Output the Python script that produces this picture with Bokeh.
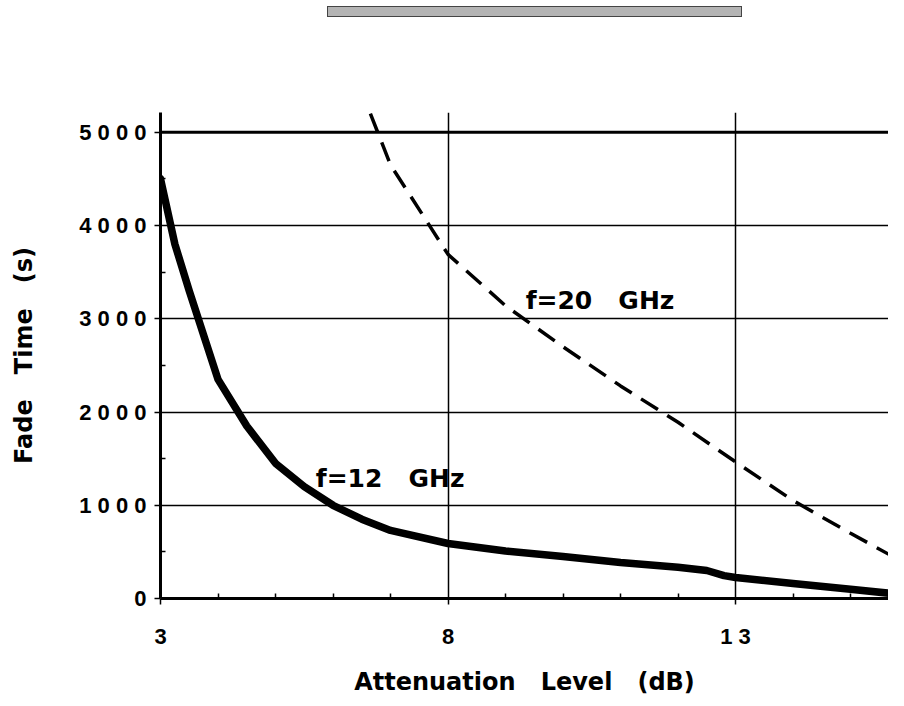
from bokeh.plotting import figure
from bokeh.models import FixedTicker, Span, Div, Range1d
from bokeh.layouts import column
from bokeh.core.properties import value
from bokeh.embed import file_html
from bokeh.resources import INLINE

NB = "\u00a0"

# f = 12 GHz (solid)
x12 = [3.0, 3.25, 3.5, 4.0, 4.5, 5.0, 5.5, 6.0, 6.5, 7.0, 8.0, 9.0, 10.0, 11.0, 12.0, 12.5, 12.8, 13.0, 14.0, 15.0, 16.0]
y12 = [4500, 3800, 3300, 2350, 1850, 1450, 1200, 1000, 850, 730, 590, 510, 450, 385, 335, 300, 245, 225, 160, 100, 35]

# f = 20 GHz (dashed)
x20 = [6.65, 7.0, 7.5, 8.0, 9.0, 10.0, 11.0, 12.0, 13.0, 14.0, 15.0, 16.0]
y20 = [5200, 4650, 4170, 3690, 3140, 2700, 2280, 1890, 1465, 1050, 700, 360]

x_major = [3, 8, 13]
x_minor = [4, 5, 6, 7, 9, 10, 11, 12, 14, 15]
y_major = [0, 1000, 2000, 3000, 4000, 5000]
y_minor = [500, 1500, 2500, 3500, 4500]
x_tick_labels = {3: "3", 8: "8", 13: "1 3"}
y_tick_labels = {0: "0", 1000: "1 0 0 0", 2000: "2 0 0 0", 3000: "3 0 0 0",
                 4000: "4 0 0 0", 5000: "5 0 0 0"}

labels_text = ["f=12" + NB * 3 + "GHz", "f=20" + NB * 3 + "GHz"]
labels_x = [5.7, 9.35]
labels_y = [1285, 3195]

x_title = "Attenuation" + NB * 3 + "Level" + NB * 3 + "(dB)"
y_title = "Fade" + NB * 3 + "Time" + NB * 3 + "(s)"

TICK_FONT = "Liberation Sans"
TEXT_FONT = "DejaVu Sans"

p = figure(width=888, height=668, output_backend="svg", toolbar_location=None,
           x_range=Range1d(3, 15.66), y_range=Range1d(0, 5212),
           min_border_left=160, min_border_right=0, min_border_top=82,
           min_border_bottom=60)
p.outline_line_color = None
p.background_fill_color = "white"

for ax in (p.xaxis[0], p.yaxis[0]):
    ax.axis_line_width = 3
    ax.axis_line_color = "black"
    ax.major_tick_line_width = 1.5
    ax.major_tick_in = 0
    ax.major_tick_out = 6
    ax.minor_tick_line_width = 1.5
    ax.minor_tick_in = 5
    ax.minor_tick_out = 0
    ax.major_label_text_font = TICK_FONT
    ax.major_label_text_font_style = "bold"
    ax.major_label_text_font_size = "22px"
    ax.major_label_text_color = "black"
    ax.axis_label_text_font = TEXT_FONT
    ax.axis_label_text_font_style = "bold"
    ax.axis_label_text_font_size = "24px"
    ax.axis_label_text_color = "black"

p.xaxis.ticker = FixedTicker(ticks=x_major, minor_ticks=x_minor)
p.yaxis.ticker = FixedTicker(ticks=y_major, minor_ticks=y_minor)
p.xaxis.major_label_overrides = x_tick_labels
p.yaxis.major_label_overrides = y_tick_labels
p.xaxis.major_label_standoff = 19
p.yaxis.major_label_standoff = 8
p.xaxis.axis_label = x_title
p.yaxis.axis_label = y_title
p.xaxis.axis_label_standoff = 16
p.yaxis.axis_label_standoff = 38

p.xgrid.ticker = FixedTicker(ticks=[8, 13])
p.ygrid.ticker = FixedTicker(ticks=[1000, 2000, 3000, 4000])
p.xgrid.grid_line_color = "black"
p.ygrid.grid_line_color = "black"
p.xgrid.grid_line_width = 1.5
p.ygrid.grid_line_width = 1.5

p.add_layout(Span(location=5000, dimension="width", line_color="black", line_width=3))

p.line(x12, y12, line_color="black", line_width=7.5, line_join="round", line_cap="round")
p.line(x20, y20, line_color="black", line_width=3.5, line_dash="20 11")

p.text(x=labels_x, y=labels_y, text=labels_text, text_font=value(TEXT_FONT),
       text_font_style="bold", text_font_size="25px", text_baseline="middle",
       text_align="left", text_color="black")

bar = Div(text='<div style="margin-left:322px;width:415px;height:11px;'
               'background:#b4b4b4;border:1px solid #444;"></div>',
          width=888, height=20)

layout = column(bar, p, spacing=0)
open("out.html", "w").write(file_html(layout, INLINE))
